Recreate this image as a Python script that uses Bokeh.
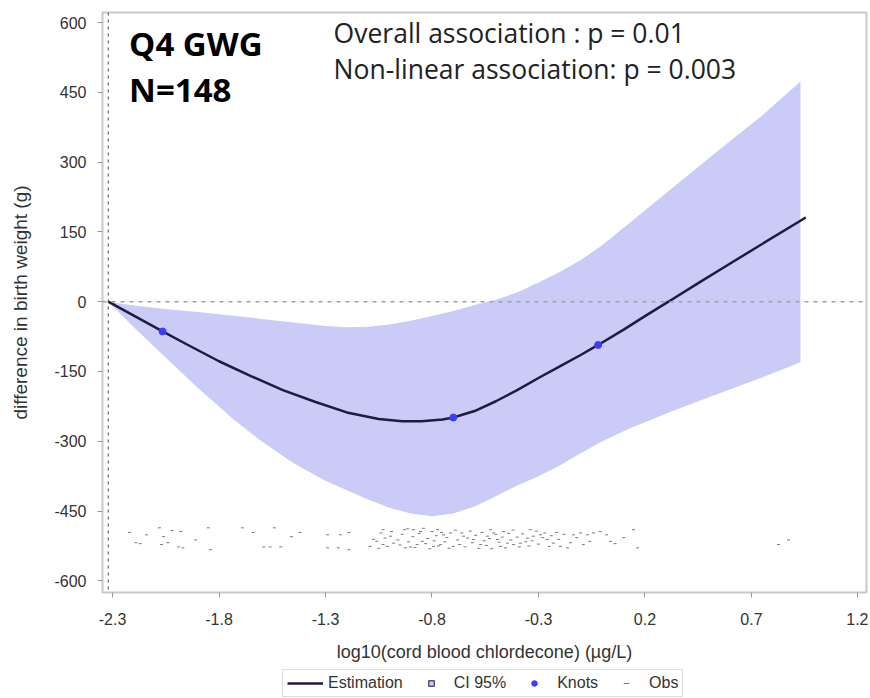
from bokeh.plotting import figure
from bokeh.layouts import column
from bokeh.models import (Range1d, Span, Label, Legend, LegendItem, FixedTicker)
from bokeh.embed import file_html
from bokeh.resources import INLINE

# ---------------- data ----------------
x_ticks = [-2.3, -1.8, -1.3, -0.8, -0.3, 0.2, 0.7, 1.2]
x_tick_labels = ["-2.3", "-1.8", "-1.3", "-0.8", "-0.3", "0.2", "0.7", "1.2"]
y_ticks = [-600, -450, -300, -150, 0, 150, 300, 450, 600]
y_tick_labels = ["-600", "-450", "-300", "-150", "0", "150", "300", "450", "600"]

ref_x = -2.32   # reference exposure (vertical dashed line)
ref_y = 0       # no-difference line

est_x = [-2.32, -2.2, -2.065, -1.95, -1.8, -1.65, -1.5, -1.35, -1.2, -1.05, -0.94,
         -0.85, -0.75, -0.7, -0.6, -0.5, -0.4, -0.3, -0.2, -0.1, -0.02, 0.1,
         0.2, 0.31, 0.45, 0.6, 0.75, 0.955]
est_y = [0, -30, -64, -92, -128, -160, -190, -215, -238, -252, -257,
         -257, -253, -249, -235, -214, -190, -164, -139, -114, -93, -60,
         -31, 0, 40, 82, 124, 181]

band_x = [-2.32, -2.2, -2.04, -1.9, -1.73, -1.6, -1.45, -1.3, -1.2, -1.1, -1.0,
          -0.9, -0.8, -0.7, -0.6, -0.5, -0.4, -0.3, -0.2, -0.1, 0.0, 0.13,
          0.33, 0.55, 0.75, 0.93]
band_lo = [0, -55, -125, -185, -254, -300, -347, -385, -405, -425, -443,
           -455, -461, -455, -440, -418, -395, -375, -352, -325, -300, -272,
           -235, -197, -163, -130]
band_hi = [0, -8, -16, -22, -30, -37, -45, -52, -55, -54, -49,
           -41, -31, -20, -7, 4, 20, 41, 64, 90, 122, 170,
           245, 327, 400, 473]

knot_x = [-2.065, -0.70, -0.02]
knot_y = [-64, -249, -93]

obs_x = [-2.22, -2.19, -2.17, -2.14, -2.08, -2.06, -2.07, -2.04, -2.02, -1.98,
         -1.99, -1.97, -1.91, -1.85, -1.84, -1.69, -1.64, -1.59, -1.56, -1.54,
         -1.51, -1.46, -1.42, -1.29, -1.29, -1.23, -1.19, -1.19, -1.24,
         -1.09, -1.075, -1.04, -1.03, -1.01, -0.995, -0.98, -1.03, -0.915, -0.887,
         -0.854, -0.925, -0.90, -0.87, -0.845, -0.793, -0.774, -0.746, -0.713, -0.70,
         -0.76, -0.652, -0.633, -0.605, -0.572, -0.54, -0.525, -0.511, -0.493, -0.478,
         -0.464, -0.446, -0.417, -0.385, -0.352, -0.338, -0.324, -0.291, -0.258, -0.23,
         -0.197, -0.164, -0.136, -0.103, -0.07, -0.042,
         -1.06, -1.05, -1.02, -0.99, -0.96, -0.95, -0.94, -0.93, -0.91, -0.89,
         -0.88, -0.86, -0.84, -0.83, -0.82, -0.81, -0.80, -0.79, -0.78, -0.77,
         -0.755, -0.74, -0.73, -0.72, -0.69, -0.68, -0.67, -0.66, -0.645, -0.62,
         -0.61, -0.595, -0.58, -0.565, -0.555, -0.545, -0.53, -0.52, -0.50, -0.485,
         -0.47, -0.455, -0.44, -0.43, -0.42, -0.40, -0.39, -0.375, -0.36, -0.345,
         -0.33, -0.31, -0.30, -0.28, -0.27, -0.25, -0.24, -0.215, -0.205, -0.18,
         -0.15, -0.12, -0.09, -0.06,
         -0.01, 0.038, 0.146, 0.165, 0.827, 0.874, 0.02, 0.10, 0.06]
obs_y = [-496, -518, -520, -501, -486, -505, -522, -518, -492, -494,
         -527, -529, -512, -486, -533, -486, -496, -527, -527, -486,
         -527, -505, -496, -501, -529, -501, -496, -533, -529,
         -526, -511, -497, -490, -526, -504, -519, -522, -488, -490,
         -494, -529, -527, -522, -515, -526, -490, -501, -497, -526,
         -522, -504, -508, -511, -522, -504, -490, -497, -511, -526,
         -494, -519, -522, -519, -508, -490, -504, -501, -511, -519,
         -526, -529, -501, -497, -501, -497,
         -515, -530, -508, -494, -512, -523, -500, -490, -516, -505,
         -528, -498, -487, -520, -509, -531, -494, -514, -503, -525,
         -496, -516, -507, -530, -491, -512, -522, -497, -527, -493,
         -518, -502, -530, -496, -514, -524, -509, -531, -500, -517,
         -506, -529, -498, -512, -491, -506, -527, -499, -516, -525,
         -514, -493, -521, -507, -497, -526, -503, -496, -511, -500,
         -518, -507, -522, -515,
         -494, -515, -490, -529, -522, -512, -501, -507, -520]

title_lines = ["Q4 GWG", "N=148"]
p_lines = ["Overall association : p = 0.01", "Non-linear association: p = 0.003"]
legend_labels = ["Estimation", "CI 95%", "Knots", "Obs"]

# colours
BAND = "#cbcbf8"
LINE = "#1c1c3c"
KNOT = "#3c3cff"
OBS = "#7a7a7a"

# ---------------- main figure ----------------
p = figure(width=868, height=664, output_backend="svg", toolbar_location=None,
           x_range=Range1d(-2.347, 1.240), y_range=Range1d(-625, 621.5),
           min_border_left=102, min_border_right=2, min_border_top=12,
           min_border_bottom=72)
p.background_fill_color = "white"
p.border_fill_color = "white"
p.outline_line_color = "#c8c8c8"
p.outline_line_width = 2
p.xgrid.visible = False
p.ygrid.visible = False

band_r = p.varea(x=band_x, y1=band_lo, y2=band_hi, fill_color=BAND, fill_alpha=1.0)
obs_r = p.scatter(obs_x, obs_y, marker="dash", size=3, line_color=OBS, line_width=1)
line_r = p.line(est_x, est_y, line_color=LINE, line_width=2.5)
knot_r = p.scatter(knot_x, knot_y, marker="circle", size=7, fill_color=KNOT,
                   line_color=KNOT)

p.add_layout(Span(location=ref_y, dimension="width", line_color="#a0a0a0",
                  line_dash="4 5", line_width=1.5))
p.add_layout(Span(location=ref_x, dimension="height", line_color="#444444",
                  line_dash="3 4", line_width=1))

for ax in (p.xaxis[0], p.yaxis[0]):
    ax.axis_line_color = "#c8c8c8"
    ax.axis_line_width = 1
    ax.major_tick_line_color = "#999999"
    ax.major_tick_out = 5
    ax.major_tick_in = 0
    ax.minor_tick_line_color = None
    ax.major_label_text_font = "Liberation Sans"
    ax.major_label_text_font_size = "16px"
    ax.major_label_text_color = "#333333"
    ax.axis_label_text_font = "Liberation Sans"
    ax.axis_label_text_font_style = "normal"
    ax.axis_label_text_color = "#333333"

p.xaxis[0].ticker = FixedTicker(ticks=x_ticks)
p.xaxis[0].major_label_overrides = dict(zip(x_ticks, x_tick_labels))
p.yaxis[0].ticker = FixedTicker(ticks=y_ticks)
p.yaxis[0].major_label_overrides = dict(zip(y_ticks, y_tick_labels))
p.xaxis[0].axis_label = "log10(cord blood chlordecone) (µg/L)"
p.yaxis[0].axis_label = "difference in birth weight (g)"
p.xaxis[0].axis_label_text_font_size = "18px"
p.yaxis[0].axis_label_text_font_size = "19px"
p.xaxis[0].major_label_standoff = 15
p.xaxis[0].axis_label_standoff = 14
p.yaxis[0].major_label_standoff = 11
p.yaxis[0].axis_label_standoff = 20

p.add_layout(Label(x=-2.222, y=555, text=title_lines[0], text_font="Open Sans",
                   text_font_style="bold", text_font_size="33px",
                   text_color="black", text_baseline="alphabetic"))
p.add_layout(Label(x=-2.222, y=456, text=title_lines[1], text_font="Open Sans",
                   text_font_style="bold", text_font_size="33px",
                   text_color="black", text_baseline="alphabetic"))
p.add_layout(Label(x=-1.262, y=577, text=p_lines[0], text_font="Open Sans",
                   text_font_size="26.5px", text_color="#222222",
                   text_baseline="alphabetic"))
p.add_layout(Label(x=-1.262, y=501, text=p_lines[1], text_font="Open Sans",
                   text_font_size="26.5px", text_color="#222222",
                   text_baseline="alphabetic"))

# ---------------- legend strip ----------------
lf = figure(width=868, height=34, output_backend="svg", toolbar_location=None,
            x_range=Range1d(0, 1), y_range=Range1d(0, 1),
            x_axis_type=None, y_axis_type=None, min_border=0)
lf.outline_line_color = None
lf.xgrid.visible = False
lf.ygrid.visible = False
off = [-10, -9]   # legend-only glyphs, kept outside the visible range
lg_line = lf.line(x=off, y=off, line_color=LINE, line_width=2.5)
lg_band = lf.scatter(x=off, y=off, marker="square", size=11, fill_color=BAND,
                     line_color="#55557a", line_width=1.5)
lg_knot = lf.scatter(x=off, y=off, marker="circle", size=7, fill_color=KNOT,
                     line_color=KNOT)
lg_obs = lf.scatter(x=off, y=off, marker="dash", size=4, line_color=OBS, line_width=1)

legend = Legend(items=[LegendItem(label=legend_labels[0], renderers=[lg_line]),
                       LegendItem(label=legend_labels[1], renderers=[lg_band]),
                       LegendItem(label=legend_labels[2], renderers=[lg_knot]),
                       LegendItem(label=legend_labels[3], renderers=[lg_obs])],
                orientation="horizontal", location=(180, 1),
                border_line_color="#bbbbbb", border_line_width=1,
                background_fill_color="white", background_fill_alpha=1.0,
                label_text_font="Liberation Sans", label_text_font_size="16px",
                label_text_color="#333333",
                glyph_width=36, glyph_height=14, label_height=16,
                padding=4, spacing=10, margin=0)
lf.add_layout(legend, "center")

layout = column(p, lf, spacing=0)
open("out.html", "w").write(file_html(layout, INLINE))
